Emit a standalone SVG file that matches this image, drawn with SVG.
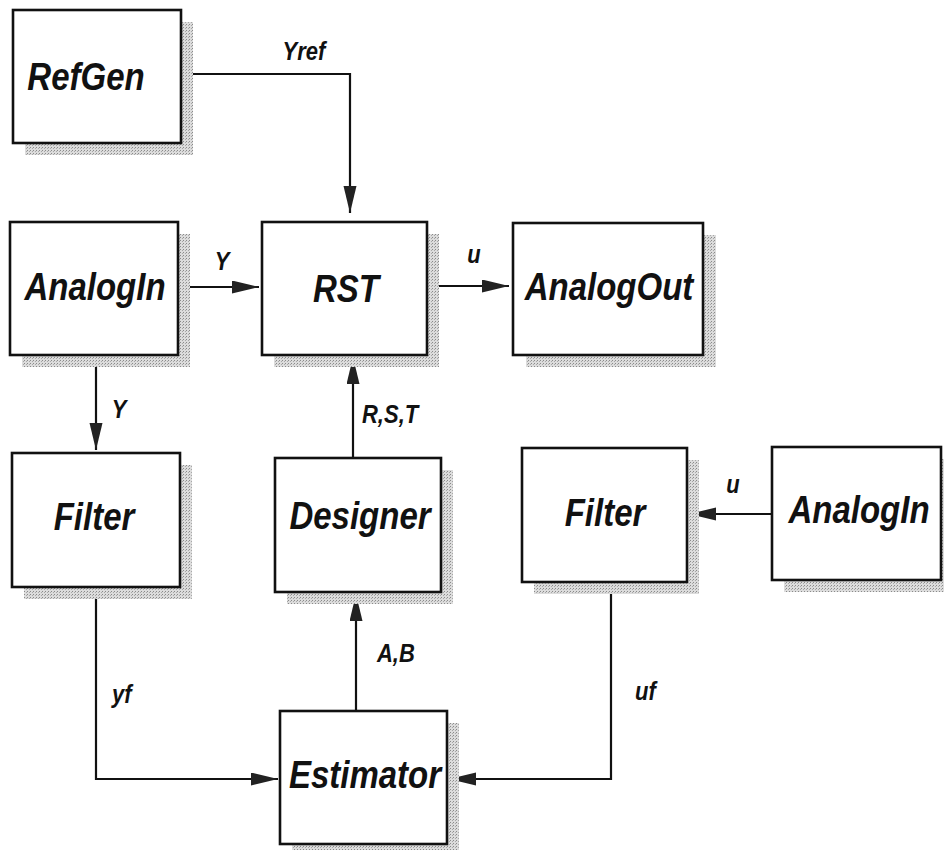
<svg xmlns="http://www.w3.org/2000/svg" width="944" height="850" viewBox="0 0 944 850">
<style>
.box{fill:#fff;stroke:#111;stroke-width:2.6}
.shd{fill:url(#dots);stroke:none}
.nl{font-family:"Liberation Sans",Arial,sans-serif;font-weight:bold;font-style:italic;font-size:33px;fill:#111;text-anchor:middle}
.el{font-family:"Liberation Sans",Arial,sans-serif;font-weight:bold;font-style:italic;font-size:22px;fill:#111}
.mid{text-anchor:middle}
.wire{fill:none;stroke:#111;stroke-width:2.2}
</style>
<defs>
<pattern id="dots" width="3" height="3" patternUnits="userSpaceOnUse">
<rect width="3" height="3" fill="#dcdcdc"/>
<rect width="1" height="1" fill="#8a8a8a"/>
<rect x="2" y="1" width="1" height="1" fill="#a8a8a8"/>
</pattern>
<marker id="arr" markerUnits="userSpaceOnUse" markerWidth="28" markerHeight="14" refX="27" refY="6.5" orient="auto">
<path d="M0,0 L27,6.5 L0,13 Z" fill="#222"/>
</marker>
</defs>

<g id="connectors">
<path class="wire" d="M181,74 H350 V213" marker-end="url(#arr)"/>
<path class="wire" d="M178,287 H259" marker-end="url(#arr)"/>
<path class="wire" d="M427,286 H509" marker-end="url(#arr)"/>
<path class="wire" d="M96,355 V450" marker-end="url(#arr)"/>
<path class="wire" d="M353,458 V357" marker-end="url(#arr)"/>
<path class="wire" d="M356,711 V594" marker-end="url(#arr)"/>
<path class="wire" d="M772,514 H689" marker-end="url(#arr)"/>
<path class="wire" d="M96,587 V779 H278" marker-end="url(#arr)"/>
<path class="wire" d="M611,582 V779 H449" marker-end="url(#arr)"/>
<text class="el mid" transform="translate(304 60) scale(1 1.15)">Yref</text>
<text class="el mid" transform="translate(222 270) scale(1 1.15)">Y</text>
<text class="el mid" transform="translate(119 418) scale(1 1.15)">Y</text>
<text class="el mid" transform="translate(474 263) scale(1 1.15)">u</text>
<text class="el" transform="translate(362 423) scale(1 1.15)">R,S,T</text>
<text class="el" transform="translate(377 662) scale(1 1.15)">A,B</text>
<text class="el mid" transform="translate(733 493) scale(1 1.15)">u</text>
<text class="el" transform="translate(112 703) scale(1 1.15)">yf</text>
<text class="el" transform="translate(635 700) scale(1 1.15)">uf</text>
</g>

<g id="RefGen">
<rect class="shd" x="25" y="22" width="168" height="133"/>
<rect class="box" x="13" y="10" width="168" height="133"/>
<text class="nl" transform="translate(86 90) scale(1 1.18)">RefGen</text>
</g>
<g id="AnalogIn1">
<rect class="shd" x="22" y="234" width="168" height="133"/>
<rect class="box" x="10" y="222" width="168" height="133"/>
<text class="nl" transform="translate(95 300) scale(1 1.18)">AnalogIn</text>
</g>
<g id="RST">
<rect class="shd" x="274" y="234" width="165" height="133"/>
<rect class="box" x="262" y="222" width="165" height="133"/>
<text class="nl" transform="translate(346 302) scale(1 1.18)">RST</text>
</g>
<g id="AnalogOut">
<rect class="shd" x="526" y="235" width="190" height="132"/>
<rect class="box" x="513" y="223" width="190" height="132"/>
<text class="nl" transform="translate(609 300) scale(1 1.18)">AnalogOut</text>
</g>
<g id="Filter1">
<rect class="shd" x="24" y="465" width="168" height="134"/>
<rect class="box" x="12" y="453" width="168" height="134"/>
<text class="nl" transform="translate(94 530) scale(1 1.18)">Filter</text>
</g>
<g id="Designer">
<rect class="shd" x="287" y="470" width="166" height="134"/>
<rect class="box" x="275" y="458" width="166" height="134"/>
<text class="nl" transform="translate(360 529) scale(1 1.18)">Designer</text>
</g>
<g id="Filter2">
<rect class="shd" x="534" y="460" width="165" height="134"/>
<rect class="box" x="522" y="448" width="165" height="134"/>
<text class="nl" transform="translate(605 526) scale(1 1.18)">Filter</text>
</g>
<g id="AnalogIn2">
<rect class="shd" x="784" y="459" width="169" height="133"/>
<rect class="box" x="772" y="447" width="169" height="133"/>
<text class="nl" transform="translate(859 523) scale(1 1.18)">AnalogIn</text>
</g>
<g id="Estimator">
<rect class="shd" x="292" y="723" width="167" height="133"/>
<rect class="box" x="280" y="711" width="167" height="133"/>
<text class="nl" transform="translate(365 788) scale(1 1.18)">Estimator</text>
</g>
</svg>
